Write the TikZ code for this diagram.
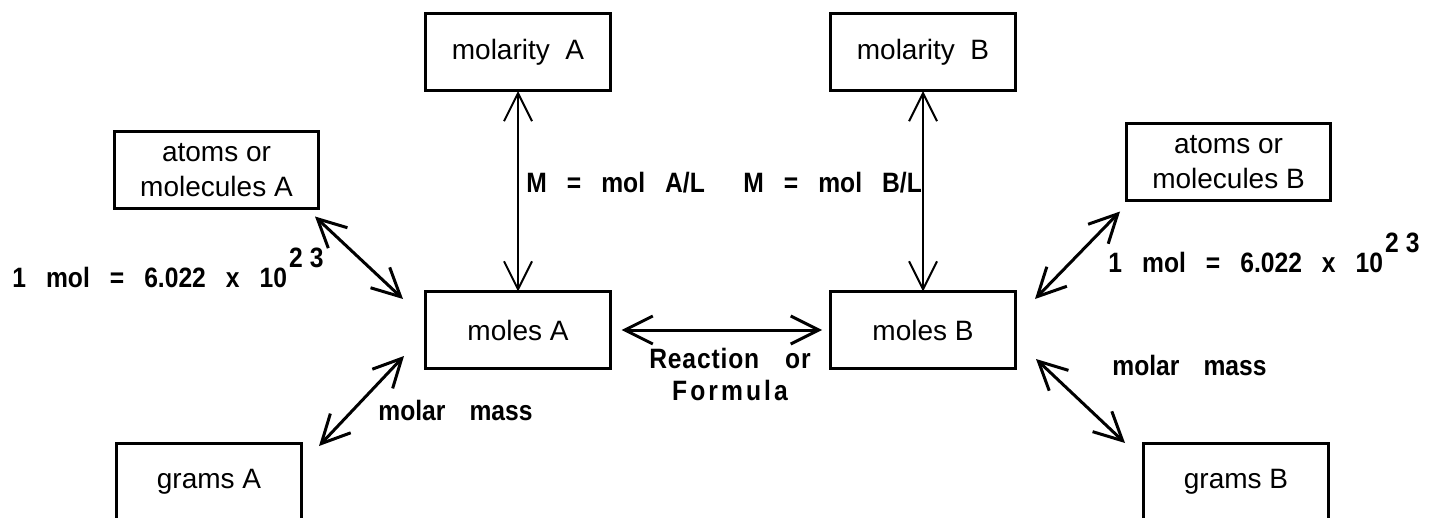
\documentclass[tikz,border=0pt]{standalone}
\usepackage{fontspec}
\setmainfont{Liberation Sans}
\newfontfamily\lblfont[FakeStretch=0.88]{Liberation Sans}
\usetikzlibrary{arrows.meta}

\newcommand{\wsp}{\hspace{10pt}}
\tikzset{
  vtip/.tip={Straight Barb[length=14pt,width=14pt]},
  box/.style={draw, line width=1.5pt, outer sep=0pt, inner sep=0pt,
    minimum width=92.5pt, minimum height=38.5pt, align=center,
    font=\fontsize{14}{17.5}\selectfont},
  wbox/.style={box, minimum width=102pt},
  lbl/.style={inner sep=0pt, anchor=base west,
    font=\lblfont\fontsize{14}{16}\selectfont\bfseries},
  dbl/.style={vtip-vtip, line width=1.5pt},
}

\begin{document}
\begin{tikzpicture}[x=0.5pt,y=-0.5pt]
\clip (0,0) rectangle (1433,518);

\node[box]  (molarA) at ( 518, 52.5) {molarity\ \ A};
\node[box]  (molesA) at ( 518,330)   {moles A};
\node[wbox] (atomsA) at ( 216.5,170.5) {atoms or\\molecules A};
\node[box]  (gramsA) at ( 209,481.5) {grams A};
\node[box]  (molarB) at ( 923, 52.5) {molarity\ \ B};
\node[box]  (molesB) at ( 923,330)   {moles B};
\node[wbox] (atomsB) at (1228.5,162) {atoms or\\molecules B};
\node[box]  (gramsB) at (1236,481.5) {grams B};

\draw[vtip-vtip, line width=1pt] (molarA) -- (molesA);
\draw[vtip-vtip, line width=1pt] (molarB) -- (molesB);
\draw[dbl, shorten <=5.5pt, shorten >=4.25pt] (molesA) -- (molesB);
\draw[dbl] ([shift={(-3.5,7.5)}]atomsA.south east) -- ([shift={(-22.5,7.5)}]molesA.north west);
\draw[dbl] ([shift={(-21.5,-12.5)}]molesA.south west) -- ([shift={(17.5,3)}]gramsA.north east);
\draw[dbl] ([shift={(-6.5,11)}]atomsB.south west) -- ([shift={(19.5,7.5)}]molesB.north east);
\draw[dbl] ([shift={(20.5,-9.5)}]molesB.south east) -- ([shift={(-18.5,0)}]gramsB.north west);

\node[lbl] (avoA)  at (  12,287) {1\wsp mol\wsp =\wsp 6.022\wsp x\wsp 10\hspace{1pt}\raisebox{10pt}{2\hspace{3.5pt}3}};
\node[lbl] (avoB)  at (1108,272) {1\wsp mol\wsp =\wsp 6.022\wsp x\wsp 10\hspace{1pt}\raisebox{10pt}{2\hspace{3.5pt}3}};
\node[lbl] (concA) at ( 526,193) {M\wsp =\wsp mol\wsp A/L};
\node[lbl] (concB) at ( 743,193) {M\wsp =\wsp mol\wsp B/L};
\node[lbl, anchor=base] (rxn1) at (730,368) {\addfontfeature{LetterSpace=3}Reaction\hspace{13pt}or};
\node[lbl, anchor=base] (rxn2) at (730,400) {\addfontfeature{LetterSpace=11}Formula};
\node[lbl] (mmA) at ( 378,420) {molar\hspace{12pt}mass};
\node[lbl] (mmB) at (1112,375) {molar\hspace{12pt}mass};
\end{tikzpicture}
\end{document}
